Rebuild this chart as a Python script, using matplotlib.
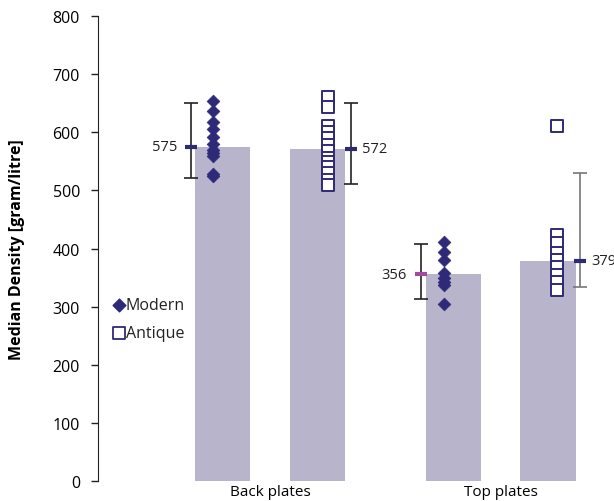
import matplotlib
matplotlib.use("Agg")
import matplotlib.pyplot as plt
import numpy as np

plt.rcParams['font.family'] = ['Open Sans', 'DejaVu Sans']

categories = ["Back plates", "Top plates"]
series = ["Modern", "Antique"]
medians = [575, 572, 356, 379]
err_low = [521, 511, 313, 334]
err_high = [650, 650, 408, 530]
modern_back = [653, 637, 618, 605, 592, 580, 570, 565, 560, 528, 524]
antique_back = [660, 643, 610, 600, 590, 578, 568, 556, 548, 540, 530, 518, 510]
modern_top = [412, 394, 381, 358, 350, 343, 337, 305]
antique_top = [610, 423, 410, 393, 381, 368, 355, 342, 329]
yticks = [0, 100, 200, 300, 400, 500, 600, 700, 800]

navy = '#2e2a78'
barc = '#b8b4cc'

fig = plt.figure(figsize=(6.14, 5.02), dpi=100)
ax = fig.add_axes([0.1596, 0.0398, 0.8404, 0.9263])

off = 0.205
width = 0.24
centers = []
for g in range(2):
    centers += [g - off, g + off]
centers = np.array(centers)

ax.bar(centers, medians, width=width, color=barc, zorder=1)

# points
pt_off = [-0.04, 0.045, -0.043, 0.037]
pts = [modern_back, antique_back, modern_top, antique_top]
for i, vals in enumerate(pts):
    x = np.full(len(vals), centers[i] + pt_off[i])
    if i % 2 == 0:
        ax.scatter(x, vals, marker='D', s=42, color=navy, edgecolor=navy, linewidth=0.5, zorder=3)
    else:
        ax.scatter(x, vals, marker='s', s=66, facecolor='white', edgecolor=navy, linewidth=1.4, zorder=3)

# error bars and median dashes
eb_off = [-0.138, 0.145, -0.143, 0.137]
eb_col = ['#222222', '#222222', '#222222', '#777777']
dash_col = [navy, navy, '#a04aa0', navy]
for i in range(4):
    xe = centers[i] + eb_off[i]
    ax.errorbar([xe], [medians[i]],
                yerr=[[medians[i] - err_low[i]], [err_high[i] - medians[i]]],
                fmt='none', ecolor=eb_col[i], elinewidth=1.2, capsize=5, capthick=1.2, zorder=2)
    ax.plot([xe - 0.026, xe + 0.026], [medians[i], medians[i]], color=dash_col[i], lw=3, zorder=4,
            solid_capstyle='butt')
    if i % 2 == 0:
        ax.text(xe - 0.06, medians[i], f"{medians[i]}", ha='right', va='center', fontsize=10.5, color='#222222')
    else:
        ax.text(xe + 0.05, medians[i], f"{medians[i]}", ha='left', va='center', fontsize=10.5, color='#222222',
                clip_on=False)

# legend
ax.scatter([-0.655], [302], marker='D', s=42, color=navy, zorder=3)
ax.text(-0.625, 302, series[0], ha='left', va='center', fontsize=11.5, color='#222222')
ax.scatter([-0.655], [255], marker='s', s=66, facecolor='white', edgecolor=navy, linewidth=1.3, zorder=3)
ax.text(-0.625, 255, series[1], ha='left', va='center', fontsize=11.5, color='#222222')

ax.set_xlim(-0.745, 1.49)
ax.set_ylim(0, 800)
ax.set_yticks(yticks)
ax.set_xticks([0, 1])
ax.set_xticklabels(categories, fontsize=11)
ax.tick_params(axis='x', length=0, pad=2)
ax.tick_params(axis='y', direction='out', length=5, width=1, labelsize=11.5, pad=8, color='#222222')
for s in ['top', 'right', 'bottom']:
    ax.spines[s].set_visible(False)
ax.spines['left'].set_color('#222222')
ax.set_ylabel("Median Density [gram/litre]", fontsize=11.5, fontweight='bold', labelpad=20)

fig.savefig("out.png", dpi=100)
